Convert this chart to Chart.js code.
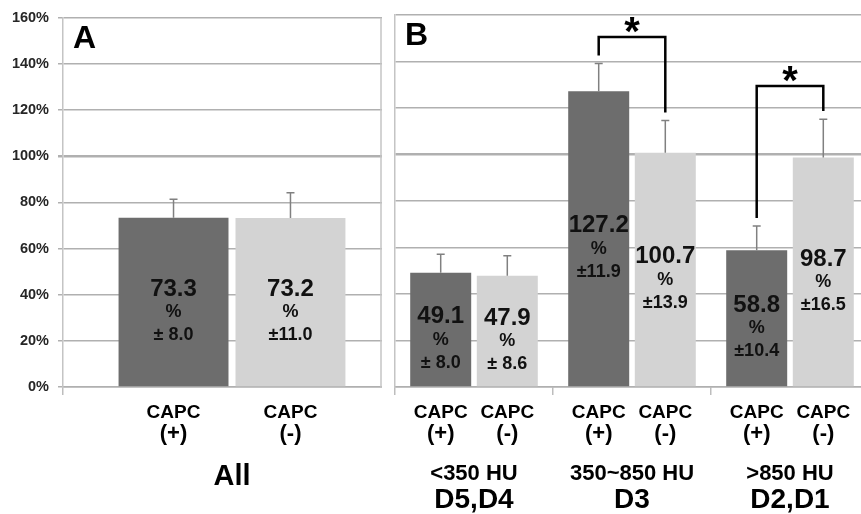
<!DOCTYPE html>
<html>
<head>
<meta charset="utf-8">
<script src="https://cdn.jsdelivr.net/npm/chart.js@4.4.1/dist/chart.umd.min.js"></script>
<style>
  html, body { margin: 0; padding: 0; background: #fff; overflow: hidden; }
  #page { position: relative; width: 861px; height: 514px; overflow: hidden; }
  .panel { position: absolute; top: 0; height: 514px; overflow: hidden; }
  #wrapA { left: 0; width: 382px; }
  #wrapB { left: 383px; width: 478px; }
</style>
</head>
<body>
<div id="page">
  <div class="panel" id="wrapA"><canvas id="chartA" width="402" height="514"></canvas></div>
  <div class="panel" id="wrapB"><canvas id="chartB" width="490" height="514"></canvas></div>
</div>
<script>
// panel A: all patients
const allGroups = [["All"]];
const allCapcPos = [73.3];
const allCapcNeg = [73.2];
const allCapcPosErr = [8.0];
const allCapcNegErr = [11.0];

// panel B: by bone density
const densityGroups = [["<350 HU", "D5,D4"], ["350~850 HU", "D3"], [">850 HU", "D2,D1"]];
const densCapcPos = [49.1, 127.2, 58.8];
const densCapcNeg = [47.9, 100.7, 98.7];
const densCapcPosErr = [8.0, 11.9, 10.4];
const densCapcNegErr = [8.6, 13.9, 16.5];

// significant pairs (group index) and bracket height in %
const sigGroups = [1, 2];
const sigLevels = [150.5, 129.5];

const barNames = ["CAPC (+)", "CAPC (-)"];

const FONT = '"Liberation Sans", Arial, sans-serif';
const DARK = "#6d6d6d";
const LIGHT = "#d3d3d3";

const fmtErr = (e) => (e < 10 ? "\u00b1 " : "\u00b1") + e.toFixed(1);

const decorPlugin = {
  id: "decor",
  afterDatasetsDraw(chart, args, opts) {
    const { ctx, chartArea, scales: { x, y } } = chart;
    ctx.save();

    // right frame of the panel (panel A only)
    if (opts.overhang) {
      const fx = chartArea.right - opts.overhang;
      ctx.strokeStyle = "#c4c4c4";
      ctx.lineWidth = 1.5;
      ctx.beginPath();
      ctx.moveTo(fx, chartArea.top);
      ctx.lineTo(fx, chartArea.bottom);
      ctx.stroke();
    }

    chart.data.datasets.forEach((ds, d) => {
      const meta = chart.getDatasetMeta(d);
      meta.data.forEach((bar, i) => {
        // error bar, upper half only
        const top = y.getPixelForValue(ds.data[i] + ds.errors[i]);
        ctx.strokeStyle = "#808080";
        ctx.lineWidth = 1.5;
        ctx.beginPath();
        ctx.moveTo(bar.x, bar.y);
        ctx.lineTo(bar.x, top);
        ctx.moveTo(bar.x - 4, top);
        ctx.lineTo(bar.x + 4, top);
        ctx.stroke();

        // value inside the bar
        const mid = (bar.y + bar.base) / 2 + 10;
        ctx.fillStyle = "#111";
        ctx.textAlign = "center";
        ctx.textBaseline = "middle";
        ctx.font = `bold 24px ${FONT}`;
        ctx.fillText(ds.data[i].toFixed(1), bar.x, mid - 23);
        ctx.font = `bold 18px ${FONT}`;
        ctx.fillText("%", bar.x, mid);
        ctx.fillText(fmtErr(ds.errors[i]), bar.x, mid + 23);

        // CAPC label under the bar
        const [l1, l2] = ds.label.split(" ");
        ctx.fillStyle = "#000";
        ctx.font = `bold 19px ${FONT}`;
        ctx.fillText(l1, bar.x, chartArea.bottom + 26);
        ctx.font = `bold 22px ${FONT}`;
        ctx.fillText(l2, bar.x, chartArea.bottom + 47);
      });
    });

    // group labels
    ctx.fillStyle = "#000";
    ctx.textAlign = "center";
    ctx.textBaseline = "middle";
    opts.groups.forEach((lines, i) => {
      const gx = x.getPixelForValue(i);
      lines.forEach((txt, k) => {
        ctx.font = `bold ${opts.groupFonts[k]}px ${FONT}`;
        ctx.fillText(txt, gx, chartArea.bottom + opts.groupOffsets[k]);
      });
    });

    // significance brackets
    const pos = chart.data.datasets[0];
    const neg = chart.data.datasets[1];
    (opts.sigGroups || []).forEach((g, k) => {
      const lb = chart.getDatasetMeta(0).data[g];
      const rb = chart.getDatasetMeta(1).data[g];
      const topY = y.getPixelForValue(opts.sigLevels[k]);
      const lBottom = y.getPixelForValue(pos.data[g] + pos.errors[g] + 3.5);
      const rBottom = y.getPixelForValue(neg.data[g] + neg.errors[g] + 3.5);
      ctx.strokeStyle = "#000";
      ctx.lineWidth = 2.5;
      ctx.beginPath();
      ctx.moveTo(lb.x, lBottom);
      ctx.lineTo(lb.x, topY);
      ctx.lineTo(rb.x, topY);
      ctx.lineTo(rb.x, rBottom);
      ctx.stroke();
      ctx.font = `bold 40px ${FONT}`;
      ctx.textBaseline = "alphabetic";
      ctx.fillText("*", (lb.x + rb.x) / 2, topY + 8);
    });

    // panel letter
    ctx.textAlign = "left";
    ctx.textBaseline = "alphabetic";
    ctx.font = `bold 32px ${FONT}`;
    ctx.fillText(opts.letter, chartArea.left + 10, chartArea.top + 30);

    ctx.restore();
  },
};

const makeChart = (id, groups, pos, neg, posErr, negErr, cfg) =>
  new Chart(document.getElementById(id), {
    type: "bar",
    data: {
      labels: groups.map((g) => g.join(" ")),
      datasets: [
        {
          label: barNames[0],
          data: pos,
          errors: posErr,
          backgroundColor: DARK,
          barPercentage: cfg.barPct,
          categoryPercentage: cfg.catPct,
        },
        {
          label: barNames[1],
          data: neg,
          errors: negErr,
          backgroundColor: LIGHT,
          barPercentage: cfg.barPct,
          categoryPercentage: cfg.catPct,
        },
      ],
    },
    options: {
      responsive: false,
      animation: false,
      layout: { padding: { top: 15, right: cfg.padRight, left: 0, bottom: 0 } },
      plugins: {
        legend: { display: false },
        tooltip: { enabled: false },
        decor: { groups, ...cfg.decor },
      },
      scales: {
        x: {
          ticks: { display: false },
          grid: {
            display: true,
            drawOnChartArea: false,
            tickLength: 8,
            color: "#bdbdbd",
            lineWidth: 1.5,
            offset: true,
          },
          border: { color: "#b0b0b0", width: 1.5 },
          afterFit: (s) => { s.height = 127; },
        },
        y: {
          min: 0,
          max: 160,
          ticks: {
            display: cfg.showY,
            stepSize: 20,
            padding: 9,
            color: "#262626",
            font: { family: FONT, size: 14.5, weight: "bold" },
            callback: (v) => v + "%",
          },
          grid: {
            color: "#b0b0b0",
            lineWidth: (c) => (c.tick && c.tick.value === 100 ? 2.5 : 1.5),
            drawTicks: cfg.showY,
            tickLength: 5,
          },
          border: { color: "#c4c4c4", width: 1.5 },
          afterFit: (s) => { s.width = cfg.yWidth; },
        },
      },
    },
    plugins: [decorPlugin],
  });

makeChart("chartA", allGroups, allCapcPos, allCapcNeg, allCapcPosErr, allCapcNegErr, {
  barPct: 0.94,
  catPct: 0.692,
  padRight: 1,
  yWidth: 63,
  showY: true,
  decor: { letter: "A", overhang: 20, groupFonts: [29], groupOffsets: [90] },
});

makeChart("chartB", densityGroups, densCapcPos, densCapcNeg, densCapcPosErr, densCapcNegErr, {
  barPct: 0.916,
  catPct: 0.843,
  padRight: 4,
  yWidth: 12,
  showY: false,
  decor: {
    letter: "B",
    groupFonts: [22, 28],
    groupOffsets: [87, 113],
    sigGroups,
    sigLevels,
  },
});
</script>
</body>
</html>
